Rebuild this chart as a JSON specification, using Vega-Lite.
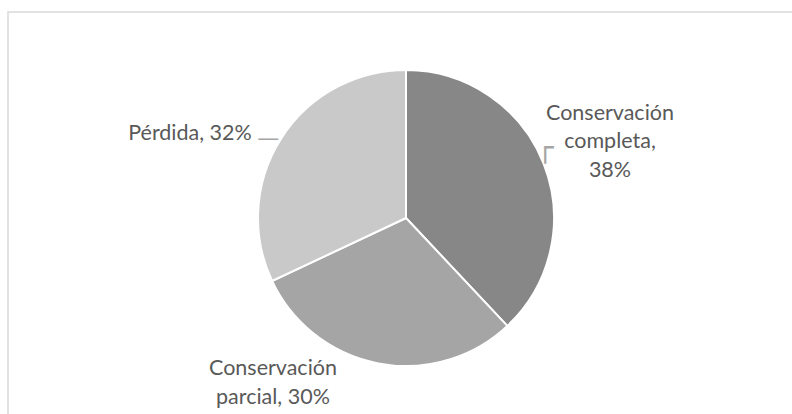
{
  "$schema": "https://vega.github.io/schema/vega-lite/v6.json",
  "width": 796,
  "height": 412,
  "padding": {"left": 8, "top": 12, "right": 0, "bottom": 0},
  "background": "white",
  "view": {"stroke": "#d9d9d9", "strokeWidth": 1.5},
  "data": {"values": [
    {"orden": 1, "categoria": "Conservación completa", "porcentaje": 38, "etiqueta": "Conservación\ncompleta,\n38%"},
    {"orden": 2, "categoria": "Conservación parcial", "porcentaje": 30, "etiqueta": "Conservación\nparcial, 30%"},
    {"orden": 3, "categoria": "Pérdida", "porcentaje": 32, "etiqueta": "Pérdida, 32%"}
  ]},
  "encoding": {
    "theta": {"field": "porcentaje", "type": "quantitative", "stack": true},
    "order": {"field": "orden", "type": "quantitative"}
  },
  "layer": [
    {
      "mark": {"type": "arc", "outerRadius": 148, "stroke": "white", "strokeWidth": 2},
      "encoding": {
        "color": {"field": "categoria", "type": "nominal",
          "scale": {"domain": ["Conservación completa", "Conservación parcial", "Pérdida"], "range": ["#878787", "#a5a5a5", "#c9c9c9"]},
          "legend": null}
      }
    },
    {
      "mark": {"type": "text", "radius": 150, "font": "DejaVu Sans Mono", "fontSize": 28, "color": "#a6a6a6", "align": "center", "baseline": "bottom"},
      "encoding": {"text": {"condition": {"test": "datum.orden === 1", "value": "┌"}, "value": ""}}
    },
    {
      "mark": {"type": "text", "radius": 150, "font": "DejaVu Sans", "fontSize": 22, "color": "#a6a6a6", "align": "right", "baseline": "middle"},
      "encoding": {"text": {"condition": {"test": "datum.orden === 3", "value": "—"}, "value": ""}}
    },
    {
      "mark": {"type": "text", "radius": 221, "dx": -1.5, "dy": -16.7, "font": "Lato", "fontSize": 21.5, "color": "#595959", "lineBreak": "\n", "lineHeight": 28.5, "align": "center", "baseline": "alphabetic"},
      "encoding": {"text": {"condition": {"test": "datum.orden === 1", "field": "etiqueta"}, "value": ""}}
    },
    {
      "mark": {"type": "text", "radius": 221, "dx": -91.6, "dy": -60, "font": "Lato", "fontSize": 21.5, "color": "#595959", "lineBreak": "\n", "lineHeight": 28.5, "align": "center", "baseline": "alphabetic"},
      "encoding": {"text": {"condition": {"test": "datum.orden === 2", "field": "etiqueta"}, "value": ""}}
    },
    {
      "mark": {"type": "text", "radius": 221, "dx": -29.4, "dy": 40.4, "font": "Lato", "fontSize": 21.5, "color": "#595959", "lineBreak": "\n", "lineHeight": 28.5, "align": "center", "baseline": "alphabetic"},
      "encoding": {"text": {"condition": {"test": "datum.orden === 3", "field": "etiqueta"}, "value": ""}}
    }
  ]
}
